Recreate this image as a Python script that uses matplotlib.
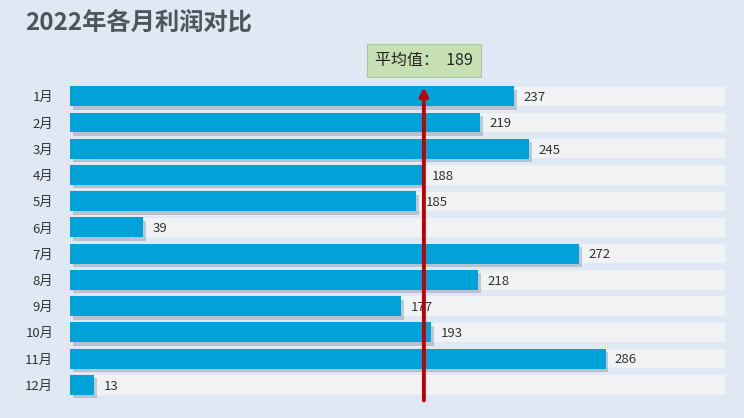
import matplotlib.pyplot as plt
import matplotlib.patheffects as pe

plt.rcParams['font.family'] = ['Noto Sans CJK SC', 'DejaVu Sans']

months = ["1月", "2月", "3月", "4月", "5月", "6月", "7月", "8月", "9月", "10月", "11月", "12月"]
profit = [237, 219, 245, 188, 185, 39, 272, 218, 177, 193, 286, 13]
avg_value = 189
axis_max = 350

bg = "#dfe8f3"
fig = plt.figure(figsize=(7.44, 4.18), dpi=100, facecolor=bg)
ax = fig.add_axes([0.094, 0.048, 0.881, 0.753])
ax.set_facecolor(bg)

y = list(range(len(months)))
ax.barh(y, [axis_max] * len(months), height=0.74, color="#f1f2f4", zorder=1)
bars = ax.barh(y, profit, height=0.76, color="#00a2d9", zorder=2)
for b in bars:
    b.set_path_effects([pe.SimplePatchShadow(offset=(2, -2.5), shadow_rgbFace="#7a8a9a", alpha=0.4), pe.Normal()])

for i, v in enumerate(profit):
    ax.text(v + 5, i + 0.05, str(v), va="center", ha="left", fontsize=9.5, color="#333333", zorder=4)

ax.set_xlim(0, axis_max)
ax.set_ylim(11.5, -0.5)
ax.set_yticks(y)
ax.set_yticklabels(months, fontsize=9.5, color="#333333")
ax.tick_params(axis="y", length=0, pad=12)
ax.set_xticks([])
for s in ax.spines.values():
    s.set_visible(False)

# average line with arrow
ax.annotate("", xy=(avg_value, -0.45), xytext=(avg_value, 11.7),
            arrowprops=dict(arrowstyle="-|>", color="#c00000", lw=2.8, mutation_scale=12),
            annotation_clip=False, zorder=5)
ax.text(avg_value, -1.35, "平均值：  " + str(avg_value), ha="center", va="center", fontsize=11.5,
        color="#222222", zorder=6,
        bbox=dict(boxstyle="square,pad=0.5", facecolor="#c6e0b4", edgecolor="#a9c99a", lw=0.8))

fig.text(0.034, 0.945, "2022年各月利润对比", fontsize=17.5, fontweight="bold", color="#50555c",
         ha="left", va="center")

fig.savefig("out.png", dpi=100, facecolor=bg)
